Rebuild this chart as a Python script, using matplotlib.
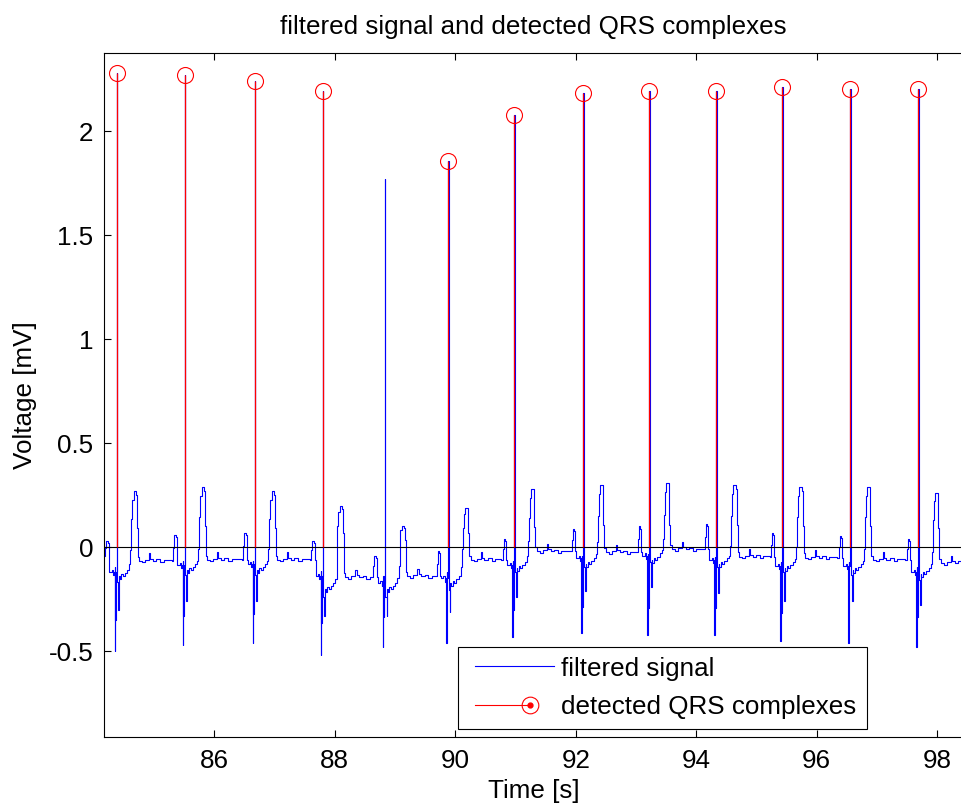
import numpy as np
import matplotlib
matplotlib.use("Agg")
import matplotlib.pyplot as plt
from matplotlib.lines import Line2D
from matplotlib.legend_handler import HandlerBase

# ---------------- data ----------------
# R-peak times [s] (beat at 88.83 s is not detected)
beat_t   = [84.379, 85.508, 86.671, 87.801, 88.831, 89.885, 90.982,
            92.128, 93.224, 94.337, 95.433, 96.560, 97.690]
r_amp    = [2.279, 2.271, 2.242, 2.194, 1.769, 1.857, 2.078,
            2.184, 2.194, 2.194, 2.213, 2.204, 2.204]
q_amp    = [-0.50, -0.47, -0.46, -0.52, -0.48, -0.46, -0.43,
            -0.41, -0.42, -0.42, -0.45, -0.46, -0.48]
s_amp    = [-0.30, -0.26, -0.26, -0.33, -0.33, -0.31, -0.24,
            -0.21, -0.19, -0.22, -0.26, -0.26, -0.28]
st_lvl   = [-0.14, -0.11, -0.11, -0.20, -0.20, -0.17, -0.10,
            -0.08, -0.06, -0.08, -0.10, -0.11, -0.13]
t_amp    = [0.27, 0.29, 0.27, 0.20, 0.10, 0.19, 0.28,
            0.30, 0.31, 0.30, 0.29, 0.29, 0.26]
p_amp    = [0.03, 0.057, 0.07, 0.03, -0.04, -0.02, 0.04,
            0.09, 0.10, 0.11, 0.07, 0.055, 0.04]
pr_lvl   = [-0.12, -0.085, -0.08, -0.14, -0.17, -0.15, -0.085,
            -0.05, -0.04, -0.06, -0.09, -0.09, -0.12]
base_lvl = [-0.065, -0.06, -0.06, -0.145, -0.14, -0.06, -0.02,
            -0.025, -0.01, -0.045, -0.05, -0.06, -0.075]
start_lvl = -0.04
detected = [True, True, True, True, False, True, True,
            True, True, True, True, True, True]

x_ticks = [86, 88, 90, 92, 94, 96, 98]
y_ticks = [-0.5, 0, 0.5, 1, 1.5, 2]
y_tick_labels = ["-0.5", "0", "0.5", "1", "1.5", "2"]

# ---------------- build the filtered signal ----------------
ts, vs = [], []
for i, t0 in enumerate(beat_t):
    bp = start_lvl if i == 0 else base_lvl[i - 1]
    P, Q, R, S = p_amp[i], q_amp[i], r_amp[i], s_amp[i]
    st, T, pr, b = st_lvl[i], t_amp[i], pr_lvl[i], base_lvl[i]
    pts = [(-0.215, bp), (-0.19, (bp + P) / 2), (-0.178, P), (-0.15, P - 0.01),
           (-0.135, bp), (-0.12, pr), (-0.08, pr + 0.01), (-0.055, pr - 0.015),
           (-0.045, pr), (-0.036, Q), (-0.028, pr * 0.8), (-0.022, Q * 0.7),
           (-0.014, pr), (0.0, R), (0.008, st * 1.2), (0.028, S), (0.036, st),
           (0.05, st - 0.015), (0.07, st + 0.01), (0.10, st), (0.13, st + 0.015),
           (0.17, st + 0.03), (0.205, (st + b) / 2 + 0.02), (0.228, b + 0.05),
           (0.244, T * 0.5), (0.258, T * 0.85), (0.28, T), (0.322, T * 0.93),
           (0.333, T * 0.35), (0.35, b + 0.02), (0.37, b), (0.42, b - 0.008),
           (0.47, b + 0.005), (0.535, b + 0.035), (0.56, b + 0.01), (0.60, b),
           (0.66, b + 0.008), (0.72, b - 0.006), (0.78, b + 0.004)]
    for dt, v in pts:
        ts.append(t0 + dt)
        vs.append(v)
ts = np.array(ts)
vs = np.array(vs)

det_t = [t for t, d in zip(beat_t, detected) if d]
det_v = [v for v, d in zip(r_amp, detected) if d]

# ---------------- figure ----------------
plt.rcParams['font.family'] = ['Liberation Sans', 'DejaVu Sans']
plt.rcParams['axes.unicode_minus'] = False
FS = 18.7

fig = plt.figure(figsize=(9.62, 8.05), dpi=100)
ax = fig.add_axes([0.1084, 0.0848, 0.8926, 0.849])

ax.plot(ts, vs, color='#0000ff', lw=0.8, drawstyle='steps-post', zorder=2)
ax.axhline(0, color='black', lw=0.8, zorder=3)
ax.vlines(det_t, 0, det_v, color='red', lw=0.9, zorder=4)
ax.plot(det_t, det_v, ls='none', marker='o', ms=11.5, mfc='none',
        mec='red', mew=0.8, zorder=5)

ax.set_xlim(84.173, 98.43)
ax.set_ylim(-0.911, 2.375)
ax.set_xticks(x_ticks)
ax.set_xticklabels([str(v) for v in x_ticks])
ax.set_yticks(y_ticks)
ax.set_yticklabels(y_tick_labels)
ax.tick_params(direction='in', length=5, width=0.8, labelsize=FS,
               top=True, right=False, pad=8)
ax.tick_params(axis='x', pad=9)
for sp in ['left', 'top', 'bottom']:
    ax.spines[sp].set_linewidth(0.8)
ax.spines['right'].set_visible(False)

ax.set_xlabel('Time [s]', fontsize=FS, labelpad=4)
ax.set_ylabel('Voltage [mV]', fontsize=FS, labelpad=8)
ax.set_title('filtered signal and detected QRS complexes', fontsize=FS, pad=14)


class SignalHandler(HandlerBase):
    def create_artists(self, legend, orig_handle, xdescent, ydescent,
                       width, height, fontsize, trans):
        y = (height - ydescent) / 2
        x0 = -xdescent + 0.08 * width
        line = Line2D([x0, -xdescent + width], [y, y], color='#0000ff', lw=0.8)
        line.set_transform(trans)
        return [line]


class StemHandler(HandlerBase):
    def create_artists(self, legend, orig_handle, xdescent, ydescent,
                       width, height, fontsize, trans):
        y = (height - ydescent) / 2
        x0 = -xdescent + 0.08 * width
        xm = -xdescent + 0.72 * width
        line = Line2D([x0, xm], [y, y], color='red', lw=0.8)
        circ = Line2D([xm], [y], marker='o', ms=12, mfc='none', mec='red',
                      mew=0.8, ls='none')
        dot = Line2D([xm], [y], marker='o', ms=3.5, color='red', ls='none')
        for a in (line, circ, dot):
            a.set_transform(trans)
        return [line, circ, dot]


class SignalKey:
    pass


class StemKey:
    pass


leg = ax.legend([SignalKey(), StemKey()], ['filtered signal', 'detected QRS complexes'],
                handler_map={SignalKey: SignalHandler(), StemKey: StemHandler()},
                loc='lower left', bbox_to_anchor=(0.412, 0.0117),
                borderaxespad=0, fontsize=FS, handlelength=3.3,
                handletextpad=0.3, borderpad=0.38, labelspacing=0.55,
                fancybox=False, framealpha=1, edgecolor='black')
leg.get_frame().set_linewidth(0.8)

fig.savefig('out.png', dpi=100)
